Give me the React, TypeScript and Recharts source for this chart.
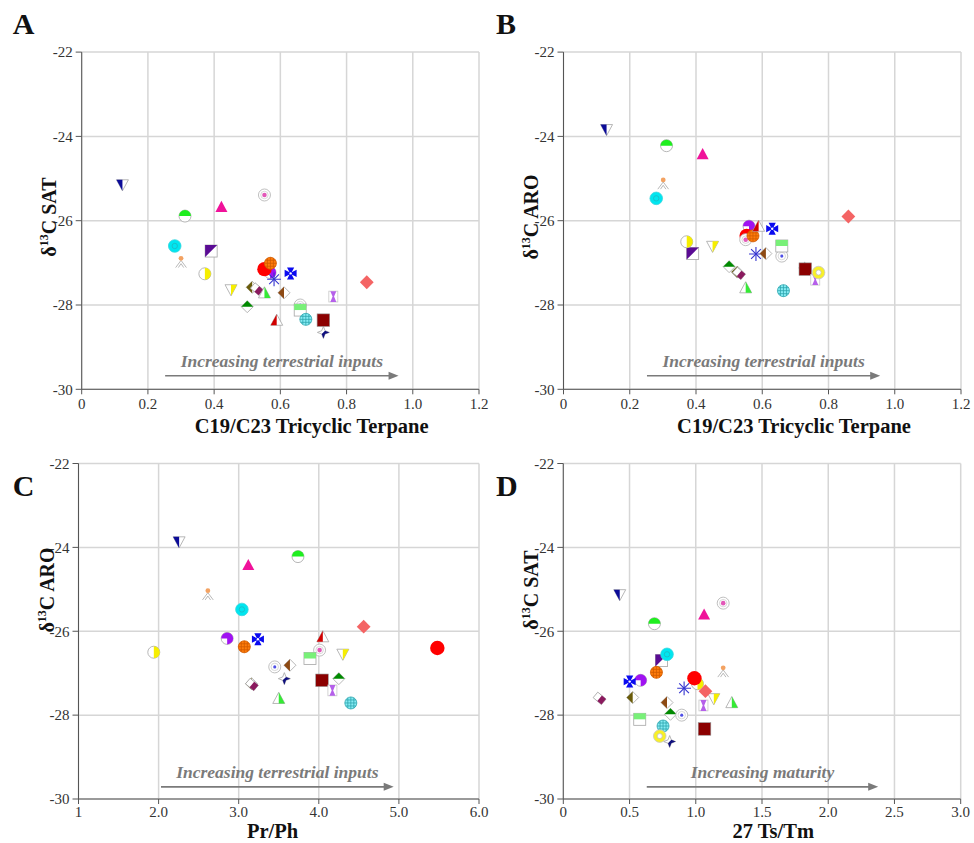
import React from "react"
import { ScatterChart, Scatter, XAxis, YAxis, CartesianGrid, ReferenceLine } from "recharts"

// one entry per sample, in drawing order (later ones sit on top)
const markers = [
  "navyTri", "limeCircle", "magentaTri", "purpleSquare", "cyanTarget", "peachPerson",
  "yellowHalfCircle", "yellowHalfTri", "greenHalfDiamond", "oliveDiamond", "maroonTilt",
  "limeHalfTri", "purplePacman", "redCircle", "pinkTarget", "orangeCross", "asterisk",
  "maltese", "brownDiamond", "redHalfTri", "greyTarget", "greenHalfSquare", "navyStar",
  "cyanHatch", "maroonSquare", "hourglass", "yellowRing", "salmonDiamond",
]

// A: C19/C23 tricyclic terpane vs d13C SAT
const tricyclicA = [0.123, 0.312, 0.422, 0.391, 0.281, 0.300, 0.372, 0.451, 0.500, 0.515, 0.529, 0.552, 0.569, 0.552, 0.552, 0.570, 0.581, 0.631, 0.611, 0.589, 0.660, 0.660, 0.730, 0.677, 0.730, 0.760, null, 0.861]
const satA = [-25.15, -25.89, -25.67, -26.72, -26.60, -26.97, -27.26, -27.64, -28.04, -27.58, -27.62, -27.71, -27.23, -27.15, -25.39, -27.01, -27.39, -27.25, -27.71, -28.36, -28.00, -28.12, -28.65, -28.34, -28.36, -27.80, null, -27.46]

// B: C19/C23 tricyclic terpane vs d13C ARO
const tricyclicB = [0.130, 0.311, 0.420, 0.390, 0.280, 0.301, 0.372, 0.450, 0.500, 0.525, 0.530, 0.550, 0.560, 0.553, 0.550, 0.572, 0.581, 0.630, 0.611, 0.589, 0.659, 0.659, 0.728, 0.664, 0.730, 0.760, 0.770, 0.860]
const aroB = [-23.84, -24.22, -24.42, -26.78, -25.47, -25.11, -26.50, -26.61, -27.09, -27.22, -27.25, -27.59, -26.13, -26.36, -26.45, -26.36, -26.79, -26.19, -26.78, -26.13, -26.84, -26.60, -27.12, -27.66, -27.15, -27.40, -27.23, -25.90]

// C: Pr/Ph vs d13C ARO
const prPhC = [2.256, 3.74, 3.12, null, 3.04, 2.615, 1.94, 4.30, 4.25, 3.16, 3.165, 3.50, 2.856, 5.48, 4.01, 3.07, null, 3.24, 3.64, 4.05, 3.45, 3.89, 3.57, 4.40, 4.04, 4.17, null, 4.56]
const aroC = [-23.87, -24.22, -24.42, null, -25.48, -25.11, -26.50, -26.55, -27.13, -27.25, -27.27, -27.60, -26.17, -26.40, -26.45, -26.37, null, -26.19, -26.81, -26.13, -26.85, -26.65, -27.13, -27.71, -27.17, -27.41, null, -25.89]

// D: 27 Ts/Tm vs d13C SAT
const tsTmD = [0.426, 0.688, 1.063, 0.741, 0.783, 1.207, 1.013, 1.136, 0.809, 0.524, 0.274, 1.272, 0.584, 0.990, 1.207, 0.703, 0.912, 0.501, 0.783, 1.066, 0.894, 0.577, 0.803, 0.753, 1.066, 1.058, 0.728, 1.073]
const satD = [-25.13, -25.82, -25.60, -26.70, -26.55, -26.95, -27.25, -27.61, -27.98, -27.58, -27.60, -27.70, -27.17, -27.12, -25.33, -26.98, -27.36, -27.20, -27.70, -28.33, -28.00, -28.10, -28.63, -28.26, -28.33, -27.77, -28.50, -27.43]

const yTicks = [-30, -28, -26, -24, -22]
const tricyclicTicks = [0, 0.2, 0.4, 0.6, 0.8, 1.0, 1.2]
const prPhTicks = [1, 2, 3, 4, 5, 6]
const tsTmTicks = [0, 0.5, 1, 1.5, 2, 2.5, 3]

const SERIF = '"Liberation Serif", "Times New Roman", serif'
const EDGE = "#a5a5a5"
const S = 6

const p = (arr: number[][]) => arr.map(([a, b]) => `${a},${b}`).join(" ")

function Marker({ kind, cx, cy }: { kind: string; cx: number; cy: number }) {
  const s = S
  const x = cx
  const y = cy
  const triUp = [[x, y - s], [x + s, y + s * 0.85], [x - s, y + s * 0.85]]
  const triDown = [[x - s, y - s * 0.85], [x + s, y - s * 0.85], [x, y + s]]
  const diamond = [[x, y - s], [x + s, y], [x, y + s], [x - s, y]]
  const hatch = (fill: string, line: string, r: number) => {
    const ls = [-r / 2, 0, r / 2].map((d, i) => {
      const h = Math.sqrt(r * r - d * d)
      return (
        <g key={i}>
          <line x1={x + d} y1={y - h} x2={x + d} y2={y + h} stroke={line} strokeWidth={0.8} />
          <line x1={x - h} y1={y + d} x2={x + h} y2={y + d} stroke={line} strokeWidth={0.8} />
        </g>
      )
    })
    return (
      <g>
        <circle cx={x} cy={y} r={r} fill={fill} stroke={line} strokeWidth={0.8} />
        {ls}
      </g>
    )
  }

  switch (kind) {
    case "navyTri":
      return (
        <g>
          <polygon points={p(triDown)} fill="#fff" stroke={EDGE} strokeWidth={0.8} />
          <polygon points={p([[x - s, y - s * 0.85], [x, y - s * 0.85], [x, y + s]])} fill="#0c0c98" />
        </g>
      )
    case "limeCircle":
      return (
        <g>
          <circle cx={x} cy={y} r={s} fill="#fff" stroke={EDGE} strokeWidth={0.8} />
          <path d={`M ${x - s} ${y} A ${s} ${s} 0 0 1 ${x + s} ${y} Z`} fill="#1fee1f" />
        </g>
      )
    case "magentaTri":
      return <polygon points={p(triUp)} fill="#f0129a" />
    case "purpleSquare":
      return (
        <g>
          <rect x={x - s} y={y - s} width={2 * s} height={2 * s} fill="#fff" stroke={EDGE} strokeWidth={0.8} />
          <polygon points={p([[x - s, y - s], [x + s, y - s], [x - s, y + s]])} fill="#5a0b94" />
        </g>
      )
    case "cyanTarget":
      return (
        <g>
          <circle cx={x} cy={y} r={s * 1.05} fill="#00e6f0" stroke="#3ad6de" strokeWidth={0.8} />
          <circle cx={x} cy={y} r={s * 0.45} fill="none" stroke="#1fb8c0" strokeWidth={0.8} />
        </g>
      )
    case "peachPerson":
      return (
        <g stroke="#b0b0b0" strokeWidth={0.9} fill="none">
          <line x1={x} y1={y - s * 0.2} x2={x - s * 0.9} y2={y + s} />
          <line x1={x} y1={y - s * 0.2} x2={x + s * 0.9} y2={y + s} />
          <line x1={x} y1={y + s * 0.35} x2={x - s * 0.45} y2={y + s} />
          <line x1={x} y1={y + s * 0.35} x2={x + s * 0.45} y2={y + s} />
          <circle cx={x} cy={y - s * 0.55} r={s * 0.4} fill="#f3a262" stroke="none" />
        </g>
      )
    case "yellowHalfCircle":
      return (
        <g>
          <circle cx={x} cy={y} r={s} fill="#fff" stroke={EDGE} strokeWidth={0.8} />
          <path d={`M ${x} ${y - s} A ${s} ${s} 0 0 1 ${x} ${y + s} Z`} fill="#f6ee00" />
        </g>
      )
    case "yellowHalfTri":
      return (
        <g>
          <polygon points={p(triDown)} fill="#fff" stroke={EDGE} strokeWidth={0.8} />
          <polygon points={p([[x, y - s * 0.85], [x + s, y - s * 0.85], [x, y + s]])} fill="#f6ee00" />
        </g>
      )
    case "greenHalfDiamond":
      return (
        <g>
          <polygon points={p(diamond)} fill="#fff" stroke={EDGE} strokeWidth={0.8} />
          <polygon points={p([[x - s, y], [x, y - s], [x + s, y]])} fill="#008a00" />
        </g>
      )
    case "oliveDiamond":
    case "brownDiamond":
      return (
        <g>
          <polygon points={p(diamond)} fill="#fff" stroke={EDGE} strokeWidth={0.8} />
          <polygon points={p([[x, y - s], [x, y + s], [x - s, y]])} fill={kind === "oliveDiamond" ? "#6a5c0a" : "#8d4a14"} />
        </g>
      )
    case "maroonTilt":
      return (
        <g transform={`rotate(40 ${x} ${y})`}>
          <rect x={x - s * 0.9} y={y - s * 0.6} width={s * 1.8} height={s * 1.2} fill="#fff" stroke={EDGE} strokeWidth={0.8} />
          <rect x={x} y={y - s * 0.6} width={s * 0.9} height={s * 1.2} fill="#8a1a5e" />
        </g>
      )
    case "limeHalfTri":
      return (
        <g>
          <polygon points={p(triUp)} fill="#fff" stroke={EDGE} strokeWidth={0.8} />
          <polygon points={p([[x, y - s], [x + s, y + s * 0.85], [x, y + s * 0.85]])} fill="#35ea35" />
        </g>
      )
    case "purplePacman":
      return (
        <g>
          <circle cx={x} cy={y} r={s} fill="#fff" stroke={EDGE} strokeWidth={0.8} />
          <path d={`M ${x} ${y} L ${x - s} ${y} A ${s} ${s} 0 1 1 ${x} ${y + s} Z`} fill="#a012f2" />
        </g>
      )
    case "redCircle":
      return <circle cx={x} cy={y} r={s * 1.2} fill="#ff0000" />
    case "pinkTarget":
    case "greyTarget":
      return (
        <g>
          <circle cx={x} cy={y} r={s} fill="#fff" stroke="#b8b8b8" strokeWidth={0.9} />
          <circle cx={x} cy={y} r={s * 0.62} fill="none" stroke="#cfcfcf" strokeWidth={0.8} />
          <circle cx={x} cy={y} r={kind === "pinkTarget" ? s * 0.38 : s * 0.26} fill={kind === "pinkTarget" ? "#e258b8" : "#4f4fe6"} />
        </g>
      )
    case "orangeCross":
      return hatch("#ff7c0a", "#d05a00", s)
    case "cyanHatch":
      return hatch("#86ecf4", "#2fa6ae", s)
    case "asterisk":
      return (
        <g stroke="#3434cf" strokeWidth={1.1}>
          {[0, 45, 90, 135].map((a) => {
            const r = (a * Math.PI) / 180
            const dx = Math.cos(r) * s * 1.15
            const dy = Math.sin(r) * s * 1.15
            return <line key={a} x1={x - dx} y1={y - dy} x2={x + dx} y2={y + dy} />
          })}
        </g>
      )
    case "maltese":
      return (
        <g>
          <polygon
            points={p([
              [x - s * 0.6, y - s], [x + s * 0.6, y - s], [x + s * 0.18, y - s * 0.18],
              [x + s, y - s * 0.6], [x + s, y + s * 0.6], [x + s * 0.18, y + s * 0.18],
              [x + s * 0.6, y + s], [x - s * 0.6, y + s], [x - s * 0.18, y + s * 0.18],
              [x - s, y + s * 0.6], [x - s, y - s * 0.6], [x - s * 0.18, y - s * 0.18],
            ])}
            fill="#0a0af0"
          />
          <circle cx={x} cy={y} r={1.2} fill="#fff" />
        </g>
      )
    case "redHalfTri":
      return (
        <g>
          <polygon points={p(triUp)} fill="#fff" stroke={EDGE} strokeWidth={0.8} />
          <polygon points={p([[x, y - s], [x, y + s * 0.85], [x - s, y + s * 0.85]])} fill="#d10000" />
        </g>
      )
    case "greenHalfSquare":
      return (
        <g>
          <rect x={x - s} y={y - s} width={2 * s} height={2 * s} fill="#fff" stroke={EDGE} strokeWidth={0.8} />
          <rect x={x - s} y={y - s} width={2 * s} height={s} fill="#78f078" />
        </g>
      )
    case "navyStar": {
      const k = 0.28
      const star = [[x, y - s], [x + k * s, y - k * s], [x + s, y], [x + k * s, y + k * s], [x, y + s], [x - k * s, y + k * s], [x - s, y], [x - k * s, y - k * s]]
      return (
        <g>
          <polygon points={p(star)} fill="#fff" stroke={EDGE} strokeWidth={0.8} />
          <polygon points={p([[x + s, y], [x + k * s, y + k * s], [x, y + s], [x - k * s, y + k * s], [x + k * s, y - k * s]])} fill="#10107e" />
        </g>
      )
    }
    case "maroonSquare":
      return <rect x={x - s * 1.05} y={y - s * 1.05} width={s * 2.1} height={s * 2.1} fill="#8b0000" stroke="#999" strokeWidth={0.6} />
    case "hourglass":
      return (
        <g>
          <rect x={x - s * 0.75} y={y - s * 0.9} width={s * 1.5} height={s * 1.8} fill="#fff" stroke="#c8c8c8" strokeWidth={0.8} />
          <polygon
            points={p([[x - s * 0.5, y - s * 0.9], [x + s * 0.5, y - s * 0.9], [x + s * 0.12, y], [x + s * 0.5, y + s * 0.9], [x - s * 0.5, y + s * 0.9], [x - s * 0.12, y]])}
            fill="#b560ea"
          />
        </g>
      )
    case "yellowRing":
      return (
        <g>
          <circle cx={x} cy={y} r={s * 1.05} fill="#f8f028" stroke="#c8c8c8" strokeWidth={0.8} />
          <circle cx={x} cy={y} r={s * 0.42} fill="#fff" stroke="#bbb" strokeWidth={0.7} />
        </g>
      )
    case "salmonDiamond": {
      const r = s * 1.15
      return <polygon points={p([[x, y - r], [x + r, y], [x, y + r], [x - r, y]])} fill="#f46464" />
    }
    default:
      return <circle cx={x} cy={y} r={s} fill="#888" />
  }
}

function TrendArrow(props: any) {
  const { x1, y1, x2, text } = props
  const mid = (x1 + x2) / 2
  return (
    <g>
      <line x1={x1} y1={y1} x2={x2 - 8} y2={y1} stroke="#7a7a7a" strokeWidth={1.6} />
      <polygon points={`${x2},${y1} ${x2 - 10},${y1 - 4} ${x2 - 10},${y1 + 4}`} fill="#7a7a7a" />
      <text x={mid} y={y1 - 9} textAnchor="middle" fontFamily={SERIF} fontSize={17.5} fontWeight="bold" fontStyle="italic" fill="#7a7a7a">
        {text}
      </text>
    </g>
  )
}

interface PanelProps {
  left: number
  top: number
  margin: { top: number; right: number; bottom: number; left: number }
  height: number
  xDomain: [number, number]
  xTicks: number[]
  xFormat: (v: number) => string
  xs: (number | null)[]
  ys: (number | null)[]
  arrow: { from: number; to: number; y: number; text: string }
  tickGap: number
}

const Y_AXIS_W = 60
const X_AXIS_H = 30

function Panel({ left, top, margin, height, xDomain, xTicks, xFormat, xs, ys, arrow, tickGap }: PanelProps) {
  const tickStyle = { fontSize: 15, fill: "#333", fontFamily: SERIF }
  // margins passed in are the plot-area offsets; axes take part of them
  const m = { ...margin, left: margin.left - Y_AXIS_W, bottom: margin.bottom - X_AXIS_H }
  return (
    <div style={{ position: "absolute", left, top }}>
      <ScatterChart width={490} height={height} margin={m}>
        <CartesianGrid stroke="#d6d6d6" strokeWidth={1.5} />
        <XAxis
          type="number"
          dataKey="x"
          domain={xDomain}
          ticks={xTicks}
          interval={0}
          height={X_AXIS_H}
          tickFormatter={xFormat}
          tick={tickStyle}
          tickSize={5}
          tickMargin={tickGap}
          axisLine={{ stroke: "#555" }}
          tickLine={{ stroke: "#555" }}
          allowDataOverflow
        />
        <YAxis
          type="number"
          dataKey="y"
          domain={[-30, -22]}
          ticks={yTicks}
          interval={0}
          width={Y_AXIS_W}
          tick={tickStyle}
          tickSize={6}
          tickMargin={3}
          axisLine={{ stroke: "#555" }}
          tickLine={{ stroke: "#555" }}
          allowDataOverflow
        />
        <ReferenceLine
          segment={[{ x: arrow.from, y: arrow.y }, { x: arrow.to, y: arrow.y }]}
          shape={(lp: any) => <TrendArrow {...lp} text={arrow.text} />}
        />
        {markers.map((kind, i) => {
          const x = xs[i]
          const y = ys[i]
          if (x == null || y == null) return null
          return (
            <Scatter
              key={kind}
              name={kind}
              data={[{ x, y }]}
              isAnimationActive={false}
              shape={(sp: any) => <Marker kind={kind} cx={sp.cx} cy={sp.cy} />}
            />
          )
        })}
      </ScatterChart>
    </div>
  )
}

const dec = (v: number) => (v === 0 ? "0" : v.toFixed(1))
const prPhFormat = (v: number) => (v === 1 ? "1" : v.toFixed(1))

// line-height 0.7: baseline sits 0.6875em below the box top
function Text({ x, y, size, children, center }: any) {
  return (
    <div
      style={{
        position: "absolute",
        left: x,
        top: y - size * 0.6875,
        fontSize: size,
        lineHeight: 0.7,
        fontWeight: "bold",
        fontFamily: SERIF,
        color: "#111",
        whiteSpace: "nowrap",
        transform: center ? "translateX(-50%)" : undefined,
      }}
    >
      {children}
    </div>
  )
}

function YTitle({ cx, cy, name }: { cx: number; cy: number; name: string }) {
  return (
    <div
      style={{
        position: "absolute",
        left: cx,
        top: cy,
        fontSize: 20,
        lineHeight: 1,
        fontWeight: "bold",
        fontFamily: SERIF,
        color: "#111",
        whiteSpace: "nowrap",
        transform: "translate(-50%, -50%) rotate(-90deg)",
      }}
    >
      δ<span style={{ fontSize: 12, position: "relative", top: -8 }}>13</span>C {name}
    </div>
  )
}

export default function App() {
  return (
    <div style={{ position: "absolute", left: 0, top: 0, width: 974, height: 843, background: "#fff", overflow: "hidden" }}>
      <Panel
        left={0}
        top={0}
        height={440}
        margin={{ top: 52.1, right: 11, bottom: 50.7, left: 81.7 }}
        xDomain={[0, 1.2]}
        xTicks={tricyclicTicks}
        xFormat={dec}
        xs={tricyclicA}
        ys={satA}
        tickGap={4}
        arrow={{ from: 0.252, to: 0.957, y: -29.68, text: "Increasing terrestrial inputs" }}
      />
      <Panel
        left={484}
        top={0}
        height={440}
        margin={{ top: 52.1, right: 13, bottom: 50.7, left: 79.5 }}
        xDomain={[0, 1.2]}
        xTicks={tricyclicTicks}
        xFormat={dec}
        xs={tricyclicB}
        ys={aroB}
        tickGap={4}
        arrow={{ from: 0.252, to: 0.956, y: -29.68, text: "Increasing terrestrial inputs" }}
      />
      <Panel
        left={0}
        top={420}
        height={420}
        margin={{ top: 43.5, right: 11, bottom: 41, left: 78.5 }}
        xDomain={[1, 6]}
        xTicks={prPhTicks}
        xFormat={prPhFormat}
        xs={prPhC}
        ys={aroC}
        tickGap={2}
        arrow={{ from: 2.03, to: 4.935, y: -29.71, text: "Increasing terrestrial inputs" }}
      />
      <Panel
        left={484}
        top={420}
        height={420}
        margin={{ top: 43.5, right: 13.3, bottom: 41, left: 79.3 }}
        xDomain={[0, 3]}
        xTicks={tsTmTicks}
        xFormat={dec}
        xs={tsTmD}
        ys={satD}
        tickGap={2}
        arrow={{ from: 0.63, to: 2.377, y: -29.71, text: "Increasing maturity" }}
      />

      <Text x={12.7} y={33.3} size={30}>A</Text>
      <Text x={496} y={33.3} size={30}>B</Text>
      <Text x={12.7} y={496} size={30}>C</Text>
      <Text x={496} y={496} size={30}>D</Text>

      <Text x={311.7} y={432.7} size={20.5} center>C19/C23 Tricyclic Terpane</Text>
      <Text x={794} y={432.7} size={20.5} center>C19/C23 Tricyclic Terpane</Text>
      <Text x={272.5} y={838.5} size={20.5} center>Pr/Ph</Text>
      <Text x={773.3} y={838.5} size={20.5} center>27 Ts/Tm</Text>

      <YTitle cx={49} cy={217} name="SAT" />
      <YTitle cx={531} cy={217} name="ARO" />
      <YTitle cx={47} cy={590} name="ARO" />
      <YTitle cx={531} cy={590} name="SAT" />
    </div>
  )
}
